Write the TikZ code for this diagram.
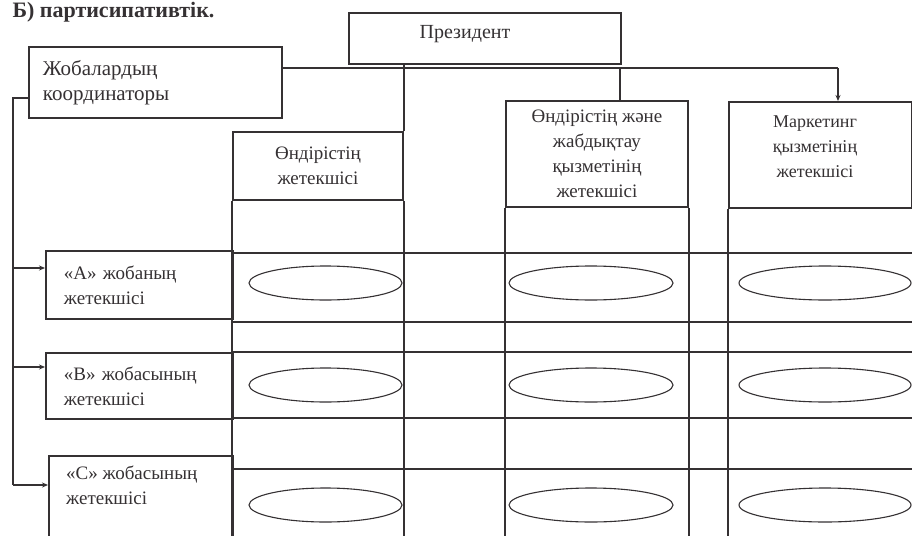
\documentclass[tikz,border=0pt]{standalone}
\usepackage{fontspec}
\setmainfont{Liberation Serif}
\usetikzlibrary{shapes.geometric,arrows.meta}
\definecolor{ink}{HTML}{353133}
\begin{document}
\begin{tikzpicture}[x=1pt,y=-1pt,
  every node/.style={font=\fontsize{19}{25}\selectfont, text=ink},
  box/.style={draw=ink, line width=1.9pt, rectangle, inner sep=0pt, anchor=north west, align=center},
  lbox/.style={box, align=left},
  ln/.style={draw=ink, line width=1.9pt},
  rowln/.style={draw=ink, line width=1.3pt},
  oval/.style={draw=ink, line width=1.1pt, ellipse, inner sep=0pt},
  arr/.style={ln, -{Stealth[length=6pt,width=5pt]}}]
\useasboundingbox (0,0) rectangle (912,535);
\clip (0,0) rectangle (912,535);
\fill[white] (0,0) rectangle (912,535);

% title
\node[anchor=base west, font=\bfseries\fontsize{22}{26}\selectfont] (title) at (9,18) {Б) партисипативтік.};

% boxes
\node[box, minimum width=272, minimum height=51] (pres) at (348,12) {};
\node[font=\fontsize{20}{25}\selectfont] (prestext) at (465,34) {Президент};
\node[lbox, text width=225, inner xsep=14, minimum height=71, font=\fontsize{21}{25}\selectfont] (zhoba) at (28,46) {Жобалардың\\координаторы};
\node[box, minimum width=170, minimum height=68] (h1) at (232,131) {Өндірістің\\жетекшісі};
\node[box, minimum width=182, minimum height=106] (h2) at (505,100) {Өндірістің және\\жабдықтау\\қызметінің\\жетекшісі};
\node[box, minimum width=183, minimum height=106] (h3) at (728,101) {};
\node[align=center, font=\fontsize{18}{25}\selectfont] (h3text) at (815,147) {Маркетинг\\қызметінің\\жетекшісі};
\node[lbox, text width=151, inner xsep=18, minimum height=68] (abox) at (45,250) {«А» жобаның\\жетекшісі};
\node[lbox, text width=151, inner xsep=18, minimum height=66] (bbox) at (45,352) {«В» жобасының\\жетекшісі};
\node[box, minimum width=184, minimum height=95] (cbox) at (48,455) {};
\node[anchor=north west, align=left, inner sep=0pt] (ctext) at (66,466) {«С» жобасының\\жетекшісі};

% grid of the columns
\coordinate (bottom) at (0,545);
\draw[ln] (h1.south west) -- (h1.south west |- bottom);
\draw[ln] (h1.south east) -- (h1.south east |- bottom);
\draw[ln] (h2.south west) -- (h2.south west |- bottom);
\draw[ln] (h2.south east) -- (h2.south east |- bottom);
\draw[ln] (h3.south west) -- (h3.south west |- bottom);
\foreach \y in {253,322,352,418,469} {
  \draw[rowln] (232,\y) -- (912,\y);
}

% ellipses
\foreach \r/\cy in {1/283,2/385,3/505} {
  \node[oval, minimum width=153, minimum height=34] (e1\r) at (325.5,\cy) {};
  \node[oval, minimum width=164, minimum height=34] (e2\r) at (591,\cy) {};
  \node[oval, minimum width=172, minimum height=34] (e3\r) at (825,\cy) {};
}

% connectors from the top
\coordinate (barR) at (838,68);
\coordinate (barM) at (620,68);
\draw[ln] (pres.south -| h1.north east) -- (h1.north east);
\draw[ln] (zhoba.east |- barR) -- (barR);
\draw[ln] (barM) -- (barM |- h2.north);
\draw[arr] (barR) -- (barR |- h3.north);

% connectors on the left
\coordinate (lx) at (13,98);
\coordinate (ay) at (13,268);
\coordinate (by) at (13,367);
\coordinate (cy) at (13,485);
\draw[ln] (zhoba.west |- lx) -- (lx) -- (cy);
\draw[arr] (ay) -- (ay -| abox.west);
\draw[arr] (by) -- (by -| bbox.west);
\draw[arr] (cy) -- (cy -| cbox.west);
\end{tikzpicture}
\end{document}
